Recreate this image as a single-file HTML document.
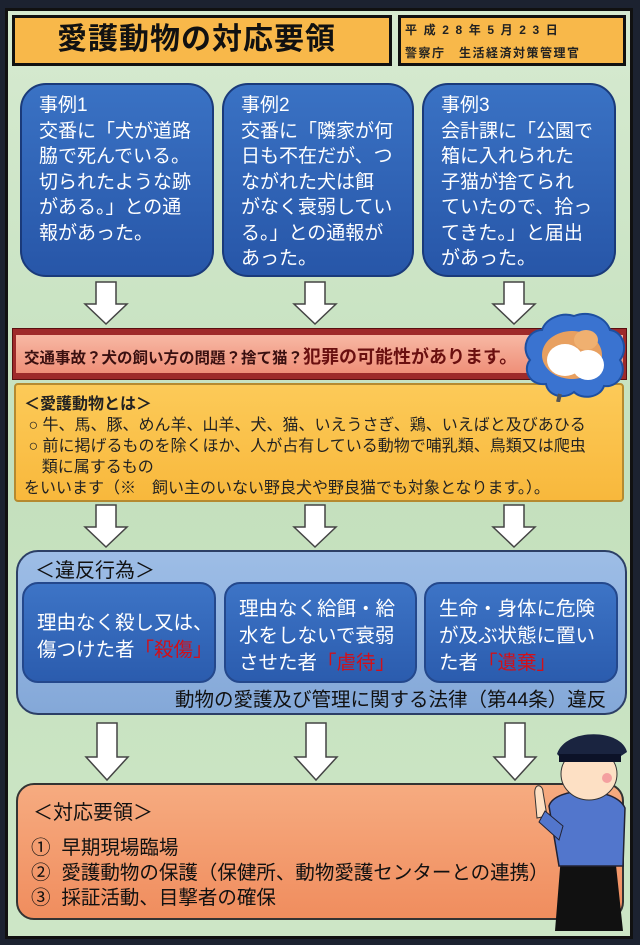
<!DOCTYPE html>
<html><head><meta charset="utf-8"><style>
*{margin:0;padding:0;box-sizing:border-box}
body{width:640px;height:945px;background:#1c2230;position:relative;overflow:hidden;font-family:"Liberation Sans","Noto Sans CJK JP",sans-serif}
.a{position:absolute}
#frame{left:5px;top:8px;width:628px;height:931px;background:linear-gradient(#d6ead0,#c4e0bd 50%,#cde6c6);border:3px solid #111}
.t{white-space:nowrap;position:absolute}
.case{background:linear-gradient(#3a72c4,#2756a8);border:2px solid #1a3a7a;border-radius:26px;color:#fff;font-size:19px;line-height:25.5px;padding:8px 0 0 17px}
.inner{background:linear-gradient(#3d74c6,#2b5cae);border:2px solid #24488c;border-radius:16px;color:#fff;font-size:19.5px;line-height:27px}
.r{color:#d0101a}
</style></head><body>
<div id="frame" class="a"></div>
<div class="a" style="left:12px;top:15px;width:380px;height:51px;background:#f8b84a;border:3px solid #111"></div>
<div class="t" style="left:57px;top:21px;font-size:30px;line-height:38px;color:#111;font-weight:bold;letter-spacing:1px">愛護動物の対応要領</div>
<div class="a" style="left:398px;top:15px;width:228px;height:51px;background:#f8b84a;border:3px solid #111"></div>
<div class="t" style="left:405px;top:22px;font-size:12px;line-height:16px;font-weight:bold;color:#222;letter-spacing:6.6px">平成28年5月23日</div>
<div class="t" style="left:405px;top:45px;font-size:12px;line-height:16px;font-weight:bold;color:#222;letter-spacing:1.5px">警察庁　生活経済対策管理官</div>

<div class="a case" style="left:20px;top:83px;width:194px;height:194px">事例1<br>交番に「犬が道路<br>脇で死んでいる。<br>切られたような跡<br>がある。」との通<br>報があった。</div>
<div class="a case" style="left:222px;top:83px;width:192px;height:194px">事例2<br>交番に「隣家が何<br>日も不在だが、つ<br>ながれた犬は餌<br>がなく衰弱してい<br>る。」との通報が<br>あった。</div>
<div class="a case" style="left:422px;top:83px;width:194px;height:194px">事例3<br>会計課に「公園で<br>箱に入れられた<br>子猫が捨てられ<br>ていたので、拾っ<br>てきた。」と届出<br>があった。</div>

<svg class="a" style="left:0;top:0" width="640" height="945">
<defs><g id="ar"><path d="M-10 0 H10 V22 H21 L0 42 L-21 22 H-10 Z" fill="#fff" stroke="#444" stroke-width="1.5"/></g>
<g id="ar2"><path d="M-10 0 H10 V34 H21 L0 57 L-21 34 H-10 Z" fill="#fff" stroke="#444" stroke-width="1.5"/></g></defs>
<use href="#ar" x="106" y="282"/><use href="#ar" x="315" y="282"/><use href="#ar" x="514" y="282"/>
<use href="#ar" x="106" y="505"/><use href="#ar" x="315" y="505"/><use href="#ar" x="514" y="505"/>
<use href="#ar2" x="107" y="723"/><use href="#ar2" x="316" y="723"/><use href="#ar2" x="515" y="723"/>
</svg>

<div class="a" style="left:12px;top:328px;width:615px;height:52px;background:#9e2a2a;border:1px solid #5a1010"></div>
<div class="a" style="left:16px;top:335px;width:607px;height:38px;background:linear-gradient(#f7b8a4,#ef8f78)"></div>
<div class="t" style="left:24px;top:346px;font-size:15.5px;line-height:22px;color:#3a1010;font-weight:bold">交通事故？犬の飼い方の問題？捨て猫？<span style="font-size:18px;color:#6a1010">犯罪の可能性があります。</span></div>

<div class="a" style="left:14px;top:383px;width:610px;height:119px;background:linear-gradient(#fcca58,#f8b83c);border:2px solid #b58a30;border-radius:4px"></div>
<div class="t" style="left:24px;top:394px;font-size:16px;line-height:21px;color:#222">
<b>＜愛護動物とは＞</b><br>&nbsp;○ 牛、馬、豚、めん羊、山羊、犬、猫、いえうさぎ、鶏、いえばと及びあひる<br>&nbsp;○ 前に掲げるものを除くほか、人が占有している動物で哺乳類、鳥類又は爬虫<br>&nbsp;&nbsp;&nbsp;&nbsp;類に属するもの<br>をいいます（※　飼い主のいない野良犬や野良猫でも対象となります。）。</div>

<svg class="a" style="left:520px;top:310px" width="108" height="92">
<path d="M54 6 C70 0 86 8 90 20 C104 22 108 40 100 50 C108 62 98 78 84 76 C80 88 62 90 54 82 C44 90 28 86 26 74 C10 76 2 60 10 50 C0 38 8 20 22 20 C26 8 42 2 54 6Z" fill="#3a73d0" stroke="#1e4fa0" stroke-width="2"/>
<ellipse cx="52" cy="45" rx="30" ry="24" fill="#e8a060"/>
<ellipse cx="45" cy="50" rx="18" ry="16" fill="#fff"/>
<ellipse cx="68" cy="55" rx="16" ry="15" fill="#fff"/>
<ellipse cx="66" cy="30" rx="12" ry="10" fill="#f0b070"/>
<path d="M40 84 L38 92" stroke="#555" stroke-width="4"/>
</svg>

<div class="a" style="left:16px;top:550px;width:611px;height:165px;background:linear-gradient(#9dbde6,#84a8d8);border:2px solid #2c3f66;border-radius:22px"></div>
<div class="t" style="left:35px;top:559px;font-size:20px;line-height:24px;color:#111">＜違反行為＞</div>
<div class="a inner" style="left:22px;top:582px;width:194px;height:101px;padding:26px 0 0 13px">理由なく殺し又は、<br>傷つけた者<span class="r">「殺傷」</span></div>
<div class="a inner" style="left:224px;top:582px;width:193px;height:101px;padding:12px 0 0 13px">理由なく給餌・給<br>水をしないで衰弱<br>させた者<span class="r">「虐待」</span></div>
<div class="a inner" style="left:424px;top:582px;width:194px;height:101px;padding:12px 0 0 13px">生命・身体に危険<br>が及ぶ状態に置い<br>た者<span class="r">「遺棄」</span></div>
<div class="t" style="left:175px;top:688px;font-size:19.5px;line-height:24px;color:#111">動物の愛護及び管理に関する法律（第44条）違反</div>

<div class="a" style="left:16px;top:783px;width:608px;height:137px;background:linear-gradient(#f6ab80,#f08d5e);border:2px solid #333;border-radius:18px"></div>
<div class="t" style="left:33px;top:801px;font-size:20px;line-height:24px;color:#111">＜対応要領＞</div>
<div class="t" style="left:31px;top:836px;font-size:19.5px;line-height:25px;color:#111">①&nbsp;&nbsp;早期現場臨場<br>②&nbsp;&nbsp;愛護動物の保護（保健所、動物愛護センターとの連携）<br>③&nbsp;&nbsp;採証活動、目撃者の確保</div>

<svg class="a" style="left:525px;top:726px" width="108" height="212">
<path d="M30 205 L36 130 L90 130 L98 205 Z" fill="#111"/>
<path d="M24 80 C30 60 90 60 100 82 L98 140 L34 140 Z" fill="#5276cc" stroke="#223" stroke-width="1.5"/>
<ellipse cx="64" cy="48" rx="28" ry="26" fill="#fde0c4" stroke="#333"/>
<path d="M32 28 C40 2 96 2 102 26 L90 34 L38 34 Z" fill="#1a2440"/>
<rect x="34" y="28" width="62" height="8" fill="#0c1228"/>
<circle cx="82" cy="52" r="5" fill="#f4a0a0"/>
<path d="M10 70 C8 56 18 58 18 66 L22 90 L12 92 Z" fill="#fde0c4" stroke="#333"/>
<path d="M20 85 L38 100 L34 114 L14 96Z" fill="#5276cc" stroke="#223"/>
</svg>
</body></html>
